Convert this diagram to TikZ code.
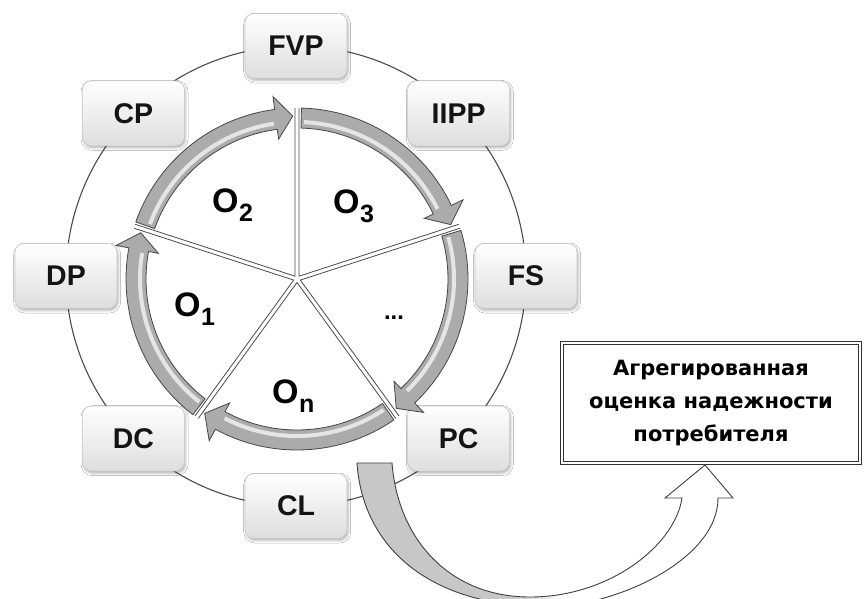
\documentclass[tikz,border=0pt]{standalone}
\usepackage{fontspec}
\setmainfont{Liberation Sans}
\newfontfamily\resfont{DejaVu Sans}
\usetikzlibrary{shadows.blur}

% fill of the large curved arrow: grey tail fading to a white head
\pgfdeclarehorizontalshading{bigfade}{100bp}{color(0bp)=(black!22); color(45bp)=(black!22); color(53bp)=(white); color(100bp)=(white)}

\tikzset{
  ring/.style={draw=black!70, line width=1.1pt},
  stage/.style={rectangle, rounded corners=9pt, minimum width=102pt, minimum height=65pt,
    top color=white, bottom color=black!13, draw=black!22, line width=0.6pt,
    blur shadow={shadow xshift=1.2pt, shadow yshift=-2pt, shadow blur radius=2.5pt, shadow opacity=30},
    font=\bfseries\fontsize{28.5}{28.5}\selectfont, text=black!92},
  sep/.style={draw=black!70, line width=0.8pt, line join=miter},
  ringarrow/.style={fill=black!33, draw=black!72, line width=0.8pt, line join=miter},
  shine/.style={draw=white, line width=4pt, opacity=0.7},
  olab/.style={anchor=base west, inner sep=0pt, font=\bfseries\fontsize{34}{34}\selectfont},
  result/.style={rectangle, draw=black!80, double=white, double distance=1.3pt, line width=1.2pt,
    fill=white, minimum width=298pt, minimum height=120pt, align=center,
    font=\resfont\bfseries\fontsize{21}{33}\selectfont},
  bigarrow/.style={shading=bigfade, draw=black!75, line width=0.9pt, line join=miter}
}

% subscripted object label
\newcommand\objlab[1]{O\kern0.5pt\raisebox{-9pt}{\fontsize{25}{25}\selectfont #1}}

% curved band arrow around the hub, clockwise from tail angle #1 to tip angle #2
\newcommand\ringarrow[2]{%
  \pgfmathsetmacro\hb{#2+6}%
  \pgfmathsetmacro\sa{#1-1}%
  \filldraw[ringarrow] (#1:171) arc[start angle=#1, end angle=\hb, radius=171]
    -- (\hb:184) -- (#2:163) -- (\hb:141) -- (\hb:151)
    arc[start angle=\hb, end angle=#1, radius=151] -- cycle;
  \draw[shine] (\sa:157) arc[start angle=\sa, end angle=\hb+1, radius=157];
}

\begin{document}
\begin{tikzpicture}[x=1pt, y=1pt]
  \clip (0,-598) rectangle (866,0);
  \fill[white] (0,-598) rectangle (866,0);

  % outer ring with the eight stage boxes
  \coordinate (hub) at (296,-276);
  \draw[ring] (hub) circle[radius=230];
  \foreach \n/\ang/\t in {fvp/90/FVP, iipp/45/IIPP, fs/0/FS, pc/-45/PC,
                         cl/-90/CL, dc/-135/DC, dp/180/DP, cp/135/CP}
    \node[stage] (\n) at ([shift={(\ang:230)}]hub) {\t};

  % exploded five-part disc
  \coordinate (core) at (297,-279);
  \begin{scope}[shift={(core)}]
    \foreach \a in {18,90,162,234,306} {
      \pgfmathsetmacro\b{\a+36}
      \begin{scope}[shift={(\b:3.5)}]
        \fill[white] (0,0) -- (\a:168) arc[start angle=\a, end angle=\a+72, radius=168] -- cycle;
        \draw[sep] (\a:168) -- (0,0) -- (\a+72:168);
      \end{scope}
    }
    % cycle of arrows O1 -> O2 -> O3 -> ... -> On
    \ringarrow{160.5}{91.5}
    \ringarrow{88.5}{19.5}
    \ringarrow{16.5}{-52.5}
    \ringarrow{-55.5}{-124.5}
    \ringarrow{232.5}{163.5}
  \end{scope}

  % sector labels
  \node[olab] (o2) at (212,-212) {\objlab{2}};
  \node[olab] (o3) at (333,-213) {\objlab{3}};
  \node[olab] (o1) at (174,-316) {\objlab{1}};
  \node[olab] (on) at (272,-403) {\objlab{n}};
  \node[font=\bfseries\fontsize{24}{24}\selectfont, inner sep=0pt] (etc) at (394,-318) {...};

  % result box
  \node[result] (res) at (711,-403) {Агрегированная\\оценка надежности\\потребителя};

  % large curved arrow from the cycle into the result box
  \coordinate (tailL) at (357,-463);
  \coordinate (tailR) at (392,-463);
  \coordinate (tip) at (705,-465);
  \shadedraw[bigarrow] (tailL)
    .. controls (362,-540) and (420,-605) .. (545,-607)
    .. controls (615,-607) and (718,-560) .. (718,-498)
    -- (733,-498) -- (tip) -- (665,-498) -- (682,-498)
    .. controls (675,-545) and (610,-597) .. (530,-597)
    .. controls (450,-597) and (398,-540) .. (tailR) -- cycle;
\end{tikzpicture}
\end{document}
